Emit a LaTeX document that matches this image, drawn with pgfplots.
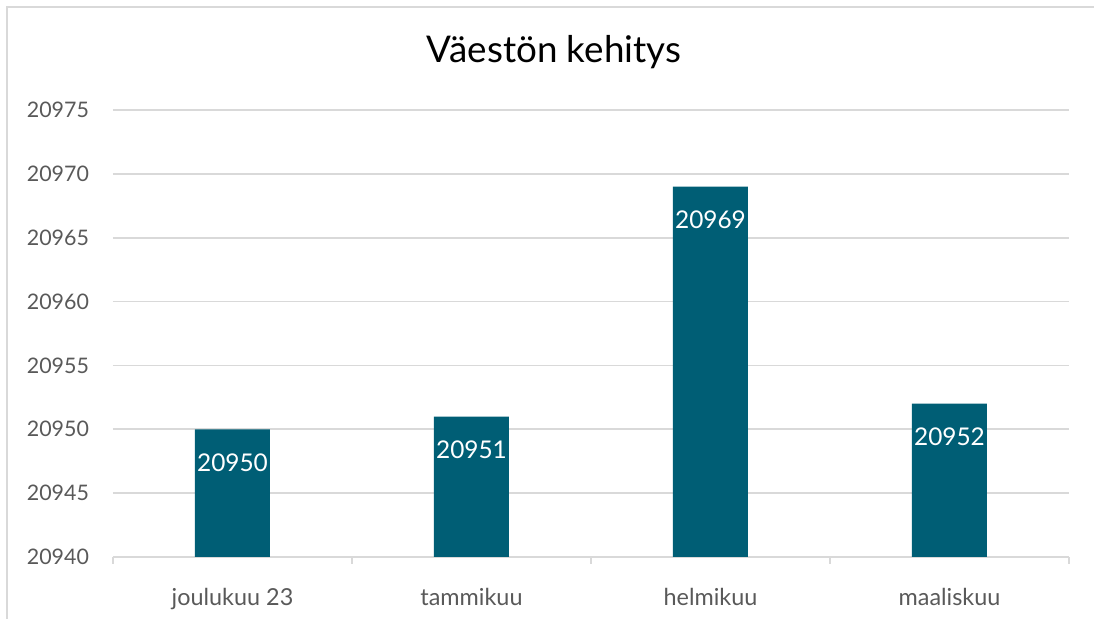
\documentclass[border=0pt]{standalone}
\usepackage{pgfplots}
\pgfplotsset{compat=1.18}
\usepackage{fontspec}
\setmainfont{Lato}
\definecolor{barc}{RGB}{0,94,117}
\definecolor{gridc}{RGB}{217,217,217}
\definecolor{txtc}{RGB}{89,89,89}
\begin{document}
\begin{tikzpicture}
\path[use as bounding box] (0,0) rectangle (547pt,309.5pt);
\draw[gridc, line width=1.2pt] (3.5pt,0) -- (3.5pt,306pt) -- (547pt,306pt);
\node[font=\fontsize{18.4}{20}\selectfont, text=black] at (277pt,283.5pt) {Väestön kehitys};
\begin{axis}[
  at={(56.5pt,31pt)}, anchor=south west,
  scale only axis, width=478pt, height=223.5pt,
  xmin=-0.5, xmax=3.5, ymin=20940, ymax=20975,
  ytick={20940,20945,...,20975},
  scaled y ticks=false,
  yticklabel={\pgfmathprintnumber[fixed,precision=0,1000 sep={}]{\tick}},
  xtick={0,1,2,3},
  xticklabels={joulukuu 23,tammikuu,helmikuu,maaliskuu},
  minor xtick={-0.5,0.5,1.5,2.5,3.5},
  major tick length=0pt, minor tick length=3.5pt,
  tick align=outside,
  every minor tick/.style={gridc, line width=0.8pt},
  axis x line*=bottom, axis y line*=left,
  x axis line style={gridc, line width=0.8pt},
  y axis line style={draw=none},
  ymajorgrids, grid style={gridc, line width=0.8pt},
  /pgf/number format/1000 sep={},
  /pgf/number format/assume math mode=true,
  xticklabel style={font=\fontsize{11.7}{13}\selectfont, text=txtc, yshift=-12pt},
  yticklabel style={font=\fontsize{10.7}{13}\selectfont, text=txtc, xshift=-8.5pt},
  ybar, bar width=37.5pt,
  nodes near coords,
  every node near coord/.append style={anchor=north, yshift=-8.5pt, text=white, font=\fontsize{12.2}{14}\selectfont},
  clip=false,
]
\addplot[fill=barc, draw=none] coordinates {(0,20950) (1,20951) (2,20969) (3,20952)};
\end{axis}
\end{tikzpicture}
\end{document}
